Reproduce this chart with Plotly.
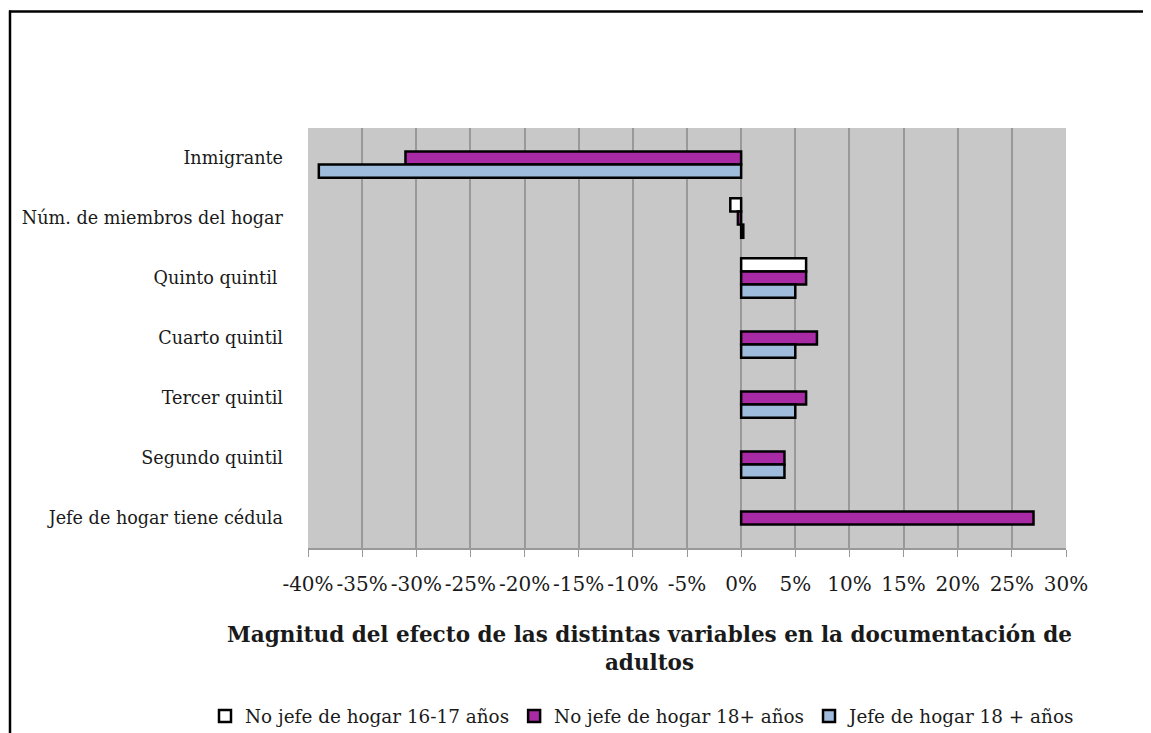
import plotly.graph_objects as go

categories = ["Inmigrante", "Núm. de miembros del hogar", "Quinto quintil ", "Cuarto quintil",
              "Tercer quintil", "Segundo quintil", "Jefe de hogar tiene cédula"]
series_names = ["No jefe de hogar 16-17 años", "No jefe de hogar 18+ años", "Jefe de hogar 18 + años"]
no_jefe_16_17 = [None, -1.0, 6.0, None, None, None, None]
no_jefe_18 = [-31.0, -0.3, 6.0, 7.0, 6.0, 4.0, 27.0]
jefe_18 = [-39.0, 0.2, 5.0, 5.0, 5.0, 4.0, None]
colors = ["#FFFFFF", "#A82AA4", "#9FBCDD"]
tick_vals = list(range(-40, 31, 5))
tick_text = [f"{v}%" for v in tick_vals]

FONT = "DejaVu Serif"
OFF = 8  # page body margin
W, H = 1151 - OFF, 733 - OFF
L, R, T, B = 308 - OFF, 1151 - 1066, 128 - OFF, 733 - 548
pw, ph = W - L - R, H - T - B

fig = go.Figure()
for name, vals, col in zip(series_names, [no_jefe_16_17, no_jefe_18, jefe_18], colors):
    fig.add_trace(go.Bar(
        y=categories, x=vals, name=name, orientation="h",
        marker=dict(color=col, line=dict(color="#000000", width=2.5)),
    ))

def px_x(p):
    return (p - OFF - L) / pw

def px_y(p):
    return (T + ph - (p - OFF)) / ph

fig.update_layout(
    width=W, height=H,
    margin=dict(l=L, r=R, t=T, b=B, autoexpand=False),
    paper_bgcolor="white", plot_bgcolor="#C8C8C8",
    barmode="group", bargap=0.34, bargroupgap=0,
    font=dict(family=FONT, size=17, color="#1a1a1a"),
    showlegend=True,
    legend=dict(orientation="h", x=px_x(205), xanchor="left", y=px_y(716), yanchor="middle",
                font=dict(family=FONT, size=18.4, color="#1a1a1a"), itemwidth=30,
                traceorder="normal", bgcolor="rgba(0,0,0,0)"),
    xaxis=dict(range=[-40, 30], tickvals=tick_vals, ticktext=tick_text,
               showgrid=True, gridcolor="#999999", gridwidth=1.5,
               zeroline=True, zerolinecolor="#999999", zerolinewidth=1.5,
               showline=True, linecolor="#999999", linewidth=1.5,
               ticks="outside", ticklen=7, tickcolor="#999999",
               ticklabelstandoff=10, tickfont=dict(family=FONT, size=20, color="#1a1a1a"),
               fixedrange=True),
    yaxis=dict(autorange="reversed", showgrid=False, zeroline=False, showline=False,
               ticks="", ticklabelstandoff=24,
               tickfont=dict(family=FONT, size=17.6, color="#1a1a1a")),
    annotations=[dict(text="<b>Magnitud del efecto de las distintas variables en la documentación de<br>adultos</b>",
                      xref="paper", yref="paper", x=px_x(649), y=px_y(648), xanchor="center", yanchor="middle",
                      showarrow=False, align="center",
                      font=dict(family=FONT, size=21.5, color="#1a1a1a"))],
    shapes=[
        dict(type="line", xref="paper", yref="paper", x0=px_x(10), x1=px_x(10), y0=px_y(10.5), y1=px_y(760),
             line=dict(color="black", width=2.5)),
        dict(type="line", xref="paper", yref="paper", x0=px_x(9), x1=px_x(1170), y0=px_y(11.5), y1=px_y(11.5),
             line=dict(color="black", width=2.5)),
    ],
)

fig.write_html("out.html")
